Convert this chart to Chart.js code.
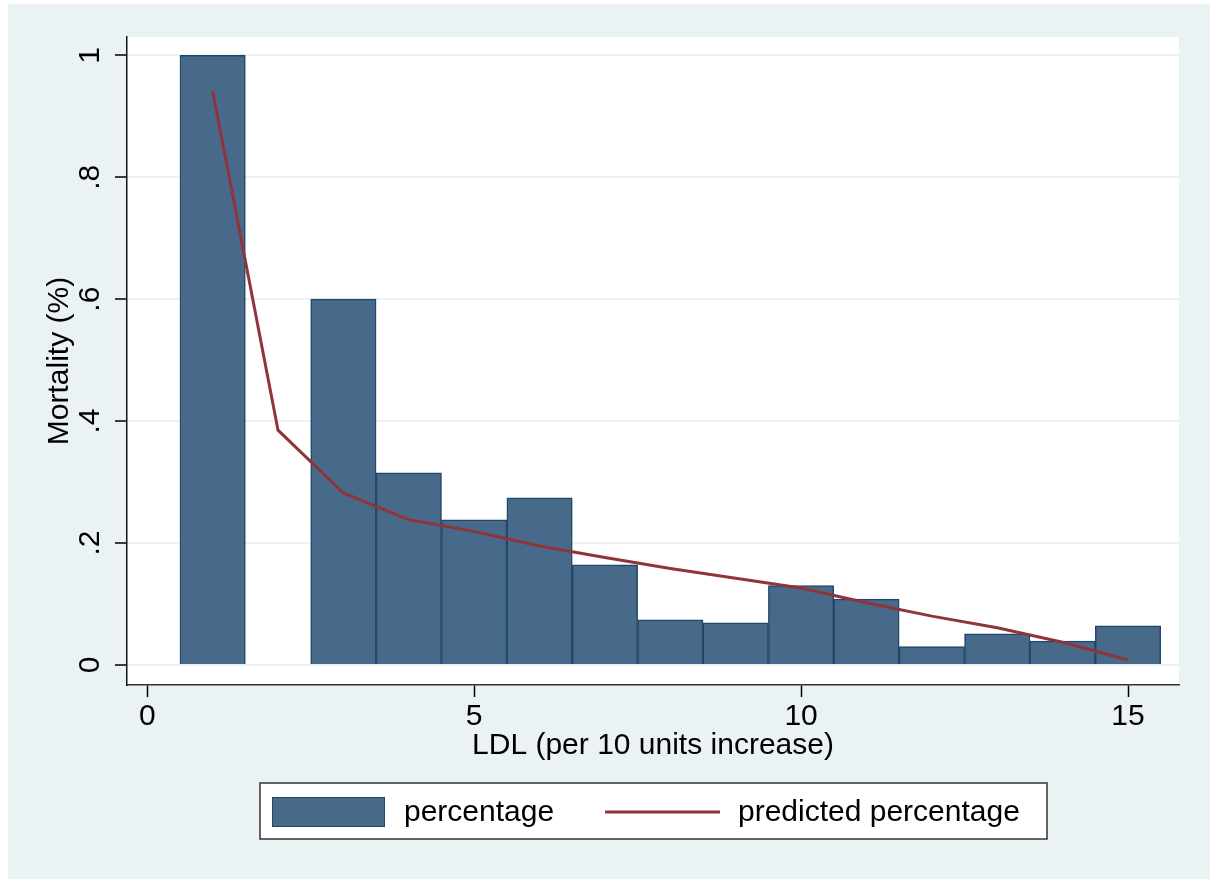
<!DOCTYPE html>
<html>
<head>
<meta charset="utf-8">
<script src="https://cdn.jsdelivr.net/npm/chart.js@4.4.1/dist/chart.umd.min.js"></script>
<style>
    html, body { margin: 0; padding: 0; background: #fff; }
    #wrap { width: 1210px; height: 879px; position: relative; }
</style>
</head>
<body>
<div id="wrap"><canvas id="myChart"></canvas></div>
<script>
// LDL 分组 (per 10 units)
var ldlGroups = [1, 2, 3, 4, 5, 6, 7, 8, 9, 10, 11, 12, 13, 14, 15];
// 观察到的死亡率
var percentage = [1.0, null, 0.6, 0.315, 0.238, 0.274, 0.164, 0.074, 0.069, 0.130, 0.108, 0.030, 0.051, 0.039, 0.064];
// 预测死亡率
var predicted = [0.941, 0.385, 0.282, 0.238, 0.219, 0.195, 0.176, 0.158, 0.142, 0.126, 0.102, 0.080, 0.061, 0.037, 0.008];

var xTickVals = [0, 5, 10, 15];
var xTickLabels = ['0', '5', '10', '15'];
var yTickVals = [0, 0.2, 0.4, 0.6, 0.8, 1];
var yTickLabels = ['0', '.2', '.4', '.6', '.8', '1'];

var FONT = '"Liberation Sans", Arial, sans-serif';
var barColor = '#476A8B';
var barEdge = '#22476A';
var lineColor = '#8F343B';

function toPoints(xs, ys) {
    var pts = [];
    for (var i = 0; i < xs.length; i++) {
        pts.push({x: xs[i], y: ys[i]});
    }
    return pts;
}

/**
 * 背景: 外框浅蓝灰, 绘图区白色
 */
var bgPlugin = {
    id: 'bgPlugin',
    beforeDraw: function (chart) {
        var ctx = chart.ctx, a = chart.chartArea;
        ctx.save();
        ctx.fillStyle = '#fff';
        ctx.fillRect(0, 0, chart.width, chart.height);
        ctx.fillStyle = '#EAF2F3';
        ctx.fillRect(8, 4, chart.width - 8, chart.height - 4);
        ctx.fillStyle = '#fff';
        ctx.fillRect(a.left, a.top, a.right - a.left, a.bottom - a.top);
        ctx.restore();
    }
};

/**
 * 竖排的 y 轴刻度 + 带框图例
 */
var extrasPlugin = {
    id: 'extrasPlugin',
    afterDraw: function (chart) {
        var ctx = chart.ctx, y = chart.scales.y;
        ctx.save();
        ctx.fillStyle = '#000';
        ctx.font = '30px ' + FONT;
        ctx.textAlign = 'center';
        ctx.textBaseline = 'middle';
        for (var i = 0; i < yTickVals.length; i++) {
            ctx.save();
            ctx.translate(91, y.getPixelForValue(yTickVals[i]));
            ctx.rotate(-Math.PI / 2);
            ctx.fillText(yTickLabels[i], 0, 0);
            ctx.restore();
        }

        // 图例
        var ds = chart.data.datasets;
        ctx.fillStyle = '#fff';
        ctx.fillRect(260, 783, 787, 56);
        ctx.strokeStyle = '#333';
        ctx.lineWidth = 1.5;
        ctx.strokeRect(260, 783, 787, 56);

        ctx.fillStyle = barColor;
        ctx.fillRect(272, 797, 113, 30);
        ctx.strokeStyle = barEdge;
        ctx.lineWidth = 1;
        ctx.strokeRect(272.5, 797.5, 112, 29);

        ctx.strokeStyle = lineColor;
        ctx.lineWidth = 3;
        ctx.beginPath();
        ctx.moveTo(605, 812);
        ctx.lineTo(720, 812);
        ctx.stroke();

        ctx.fillStyle = '#000';
        ctx.textAlign = 'left';
        ctx.fillText(ds[0].label, 404, 813);
        ctx.fillText(ds[1].label, 738, 813);
        ctx.restore();
    }
};

var ctx = document.getElementById('myChart').getContext('2d');
var chart = new Chart(ctx, {
    data: {
        datasets: [{
            type: 'bar',
            label: 'percentage',
            data: toPoints(ldlGroups, percentage),
            backgroundColor: barColor,
            borderColor: barEdge,
            borderWidth: 1.5,
            barPercentage: 1,
            categoryPercentage: 1,
            order: 1
        }, {
            type: 'line',
            label: 'predicted percentage',
            data: toPoints(ldlGroups, predicted),
            borderColor: lineColor,
            borderWidth: 3,
            pointRadius: 0,
            tension: 0,
            fill: false,
            order: 0
        }]
    },
    options: {
        responsive: true,
        maintainAspectRatio: false,
        animation: false,
        devicePixelRatio: 1,
        layout: {padding: {left: 0, top: 37, right: 31, bottom: 109}},
        plugins: {
            legend: {display: false},
            tooltip: {enabled: false}
        },
        scales: {
            x: {
                type: 'linear',
                min: -0.31,
                max: 15.78,
                offset: false,
                afterBuildTicks: function (s) {
                    s.ticks = xTickVals.map(function (v) { return {value: v}; });
                },
                afterFit: function (s) { s.height = 85; },
                ticks: {
                    color: '#000',
                    font: {family: FONT, size: 30},
                    padding: 2,
                    maxRotation: 0,
                    callback: function (v) {
                        var k = xTickVals.indexOf(v);
                        return k >= 0 ? xTickLabels[k] : '';
                    }
                },
                grid: {offset: false, drawOnChartArea: false, tickLength: 12, tickColor: '#000', tickWidth: 1.5},
                border: {display: true, color: '#333', width: 1.5},
                title: {
                    display: true,
                    text: 'LDL (per 10 units increase)',
                    color: '#000',
                    font: {family: FONT, size: 30},
                    padding: {top: 0, bottom: 6}
                }
            },
            y: {
                type: 'linear',
                min: -0.033,
                max: 1.03,
                afterBuildTicks: function (s) {
                    s.ticks = yTickVals.map(function (v) { return {value: v}; });
                },
                afterFit: function (s) { s.width = 127; },
                ticks: {display: false},
                grid: {color: '#EAF2F3', lineWidth: 2, tickLength: 12, tickColor: '#000', tickWidth: 1.5},
                border: {display: true, color: '#111', width: 1.5},
                title: {
                    display: true,
                    text: 'Mortality (%)',
                    color: '#000',
                    font: {family: FONT, size: 30},
                    padding: {top: 42, bottom: 0}
                }
            }
        }
    },
    plugins: [bgPlugin, extrasPlugin]
});
</script>
</body>
</html>
